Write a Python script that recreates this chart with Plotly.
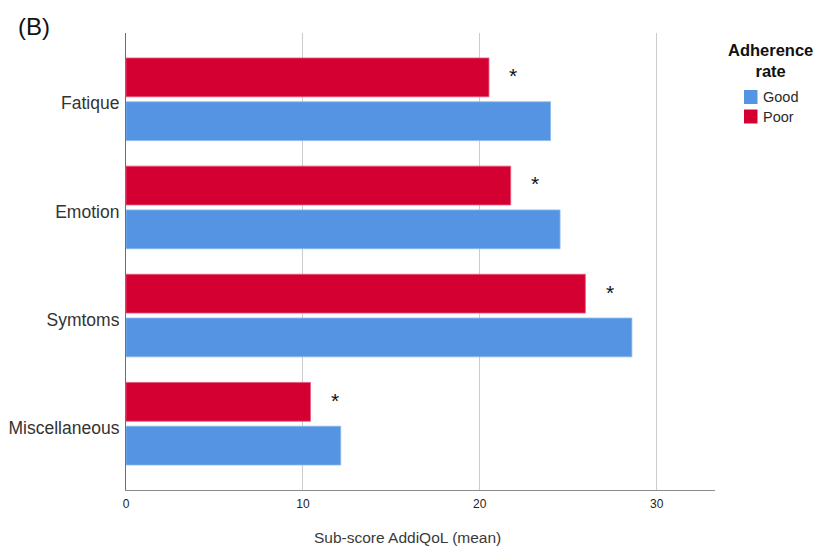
import plotly.graph_objects as go

# AddiQoL sub-scores (mean) by adherence rate
categories = ["Fatique", "Emotion", "Symtoms", "Miscellaneous"]
good_scores = [24.0, 24.54, 28.6, 12.14]
poor_scores = [20.52, 21.75, 25.97, 10.43]
series_names = ["Good", "Poor"]
series_colors = ["#5594e2", "#d50032"]
series_edges = ["#8ab7ee", "#e4577a"]
significant = ["*", "*", "*", "*"]
x_ticks = [0, 10, 20, 30]

W, H = 819, 548
L, R, T, B = 126, 104, 33, 58
PW, PH = W - L - R, H - T - B


def px_x(p):
    return (p - L) / PW


def px_y(p):
    return (H - B - p) / PH


FONT = "Liberation Sans, Arial, sans-serif"

fig = go.Figure()
for name, vals, col, edge in zip(series_names, [good_scores, poor_scores],
                                 series_colors, series_edges):
    fig.add_trace(go.Bar(
        y=categories, x=vals, name=name, orientation="h",
        marker=dict(color=col, line=dict(color=edge, width=0.8)),
        showlegend=False,
    ))

# significance markers next to the "Poor" bars
for cat, val, mark in zip(categories, poor_scores, significant):
    fig.add_annotation(
        x=val, y=cat, xref="x", yref="y", text=mark, showarrow=False,
        xshift=24.5, yshift=23.5, font=dict(family=FONT, size=21, color="#111"),
    )

# panel tag
fig.add_annotation(
    x=px_x(16), y=px_y(27), xref="paper", yref="paper", text="(B)",
    showarrow=False, xanchor="left", yanchor="middle",
    font=dict(family=FONT, size=24, color="#111"),
)

# x-axis title
fig.add_annotation(
    x=px_x(407), y=px_y(537), xref="paper", yref="paper",
    text="Sub-score AddiQoL (mean)", showarrow=False,
    xanchor="center", yanchor="middle",
    font=dict(family=FONT, size=15.5, color="#3a3a3a"),
)

# legend: title, swatches and labels
fig.add_annotation(
    x=px_x(770.5), y=px_y(60), xref="paper", yref="paper",
    text="<b>Adherence</b><br><b>rate</b>", showarrow=False,
    xanchor="center", yanchor="middle", align="center",
    font=dict(family=FONT, size=16.5, color="#111"),
)
for i, (name, col) in enumerate(zip(series_names, series_colors)):
    top = 90 + i * 19.5
    fig.add_shape(
        type="rect", xref="paper", yref="paper",
        x0=px_x(744), x1=px_x(757.5), y0=px_y(top), y1=px_y(top + 14),
        fillcolor=col, line=dict(width=0),
    )
    fig.add_annotation(
        x=px_x(761), y=px_y(top + 7), xref="paper", yref="paper",
        text=name, showarrow=False, xanchor="left", yanchor="middle",
        font=dict(family=FONT, size=14.5, color="#2a2a2a"),
    )

fig.update_layout(
    width=W, height=H,
    margin=dict(l=L, r=R, t=T, b=B, pad=0, autoexpand=False),
    paper_bgcolor="white", plot_bgcolor="white",
    barmode="group", bargap=0.19, bargroupgap=0.114,
    font=dict(family=FONT, color="#222"),
    xaxis=dict(
        range=[0, 33.3], tickvals=x_ticks, ticktext=[str(v) for v in x_ticks],
        showgrid=True, gridcolor="#cccccc", gridwidth=1, zeroline=False,
        showline=True, linecolor="#8a8a8a", linewidth=1.2,
        ticks="outside", ticklen=2, tickcolor="rgba(0,0,0,0)",
        tickfont=dict(family=FONT, size=12, color="#222"),
        automargin=False, fixedrange=True,
    ),
    yaxis=dict(
        type="category", categoryorder="array",
        categoryarray=categories[::-1],
        range=[-0.613, 3.613],
        showgrid=False, zeroline=False,
        showline=True, linecolor="#6e6e6e", linewidth=1.2,
        ticks="", ticklabelstandoff=2, ticklabelshift=4,
        tickfont=dict(family=FONT, size=17.5, color="#333"),
        automargin=False, fixedrange=True,
    ),
)

fig.write_html("out.html")
